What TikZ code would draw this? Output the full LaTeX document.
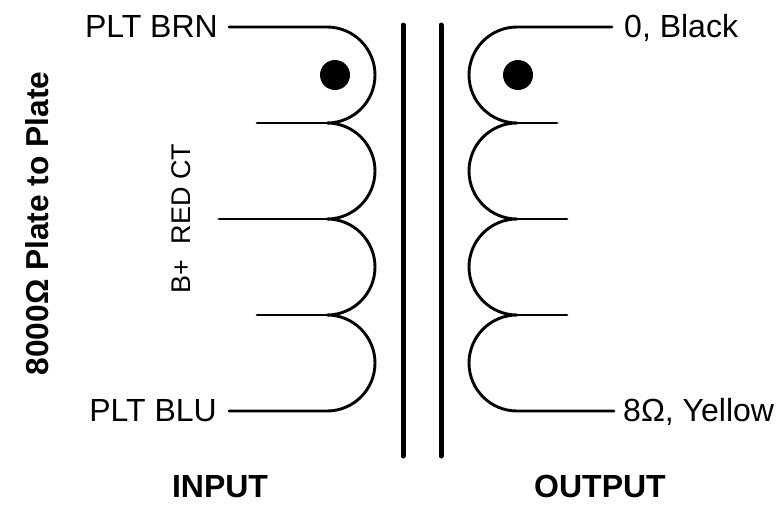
\documentclass[tikz,border=0pt]{standalone}
\usepackage{fontspec}
\setmainfont{Liberation Sans}
\tikzset{
  wire/.style={line width=2.9pt,line cap=round,line join=round,black},
  bar/.style={line width=5pt,line cap=round,black},
  lbl/.style={inner sep=0pt,font=\fontsize{32}{36}\selectfont},
  blbl/.style={inner sep=0pt,font=\fontsize{32}{36}\selectfont\bfseries},
  dotm/.style={circle,fill=black,inner sep=0pt,minimum size=30pt}
}
\begin{document}
\begin{tikzpicture}[x=1pt,y=-1pt]
\useasboundingbox (0,0) rectangle (778,504);
% free ends
\coordinate (L0) at (229,27);
\coordinate (L1) at (257,123);
\coordinate (L2) at (219,219);
\coordinate (L3) at (257,315);
\coordinate (L4) at (229,411);
\coordinate (R0) at (612,27);
\coordinate (R1) at (557,123);
\coordinate (R2) at (567,219);
\coordinate (R3) at (567,315);
\coordinate (R4) at (614,411);
\coordinate (BA1) at (403,25);
\coordinate (BA2) at (403,456);
\coordinate (BB1) at (441,25);
\coordinate (BB2) at (441,456);
% left winding
\draw[wire] (L0) -- (327,27) arc[start angle=-90,end angle=90,radius=48]
  arc[start angle=-90,end angle=90,radius=48]
  arc[start angle=-90,end angle=90,radius=48]
  arc[start angle=-90,end angle=90,radius=48] -- (L4);
\draw[wire] (L1) -- (335,123);
\draw[wire] (L2) -- (335,219);
\draw[wire] (L3) -- (335,315);
% right winding
\draw[wire] (R0) -- (517,27) arc[start angle=270,end angle=90,radius=48]
  arc[start angle=270,end angle=90,radius=48]
  arc[start angle=270,end angle=90,radius=48]
  arc[start angle=270,end angle=90,radius=48] -- (R4);
\draw[wire] (R1) -- (509,123);
\draw[wire] (R2) -- (509,219);
\draw[wire] (R3) -- (509,315);
% core
\draw[bar] (BA1) -- (BA2);
\draw[bar] (BB1) -- (BB2);
% dots
\node[dotm] (dotL) at (335,75) {};
\node[dotm] (dotR) at (518,75) {};
% labels
\node[lbl,anchor=base east] (plbrn) at (218,37) {PLT BRN};
\node[lbl,anchor=base east] (plblu) at (217,421) {PLT BLU};
\node[lbl,anchor=base west] (black) at (624,37) {0, Black};
\node[lbl,anchor=base west] (yellow) at (623,421) {8Ω, Yellow};
\node[blbl,anchor=base] (input) at (220,497) {INPUT};
\node[blbl,anchor=base] (output) at (600,497) {OUTPUT};
\node[lbl,rotate=90,anchor=base,font=\fontsize{27}{32}\selectfont] (ct) at (190,218.5) {B+\ \ RED CT};
\node[blbl,rotate=90,anchor=base,font=\fontsize{31.7}{36}\selectfont\bfseries] (plate) at (48,223.5) {8000Ω Plate to Plate};
\end{tikzpicture}
\end{document}
